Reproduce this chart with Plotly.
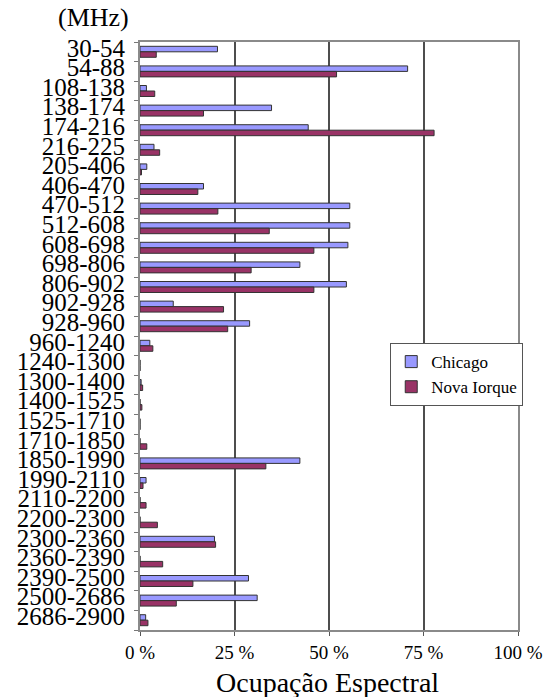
import plotly.graph_objects as go

# Frequency bands (MHz) and measured spectral occupancy (%)
bands = ["30-54", "54-88", "108-138", "138-174", "174-216", "216-225", "205-406",
         "406-470", "470-512", "512-608", "608-698", "698-806", "806-902", "902-928",
         "928-960", "960-1240", "1240-1300", "1300-1400", "1400-1525", "1525-1710",
         "1710-1850", "1850-1990", "1990-2110", "2110-2200", "2200-2300", "2300-2360",
         "2360-2390", "2390-2500", "2500-2686", "2686-2900"]

chicago = [20.5, 70.8, 1.7, 34.8, 44.5, 3.7, 1.8, 16.8, 55.5, 55.5,
           55.0, 42.3, 54.6, 8.8, 29.0, 2.6, 0.0, 0.3, 0.0, 0.0,
           0.0, 42.3, 1.6, 0.0, 0.0, 19.7, 0.0, 28.7, 31.0, 1.5]

nova_iorque = [4.3, 52.0, 3.9, 16.8, 77.8, 5.2, 0.4, 15.3, 20.6, 34.2,
               46.0, 29.4, 46.0, 22.1, 23.2, 3.4, 0.0, 0.7, 0.5, 0.0,
               1.8, 33.3, 0.8, 1.6, 4.6, 20.0, 6.0, 14.0, 9.6, 2.1]

x_ticks = [0, 25, 50, 75, 100]
x_tick_text = ["0 %", "25 %", "50 %", "75 %", "100 %"]

serif = "Times New Roman"

fig = go.Figure()
fig.add_trace(go.Bar(
    y=bands, x=chicago, orientation="h", name="Chicago",
    marker=dict(color="#9999FF", line=dict(color="#333333", width=1)),
))
fig.add_trace(go.Bar(
    y=bands, x=nova_iorque, orientation="h", name="Nova Iorque",
    marker=dict(color="#993366", line=dict(color="#333333", width=1)),
))

fig.update_layout(
    width=555, height=697,
    margin=dict(l=140, r=27, t=42, b=67),
    paper_bgcolor="white", plot_bgcolor="white",
    barmode="group", bargap=0.44, bargroupgap=0.0,
    font=dict(family=serif, color="black"),
    showlegend=True,
    legend=dict(
        x=0.662, y=0.488, xanchor="left", yanchor="top",
        bgcolor="white", bordercolor="#555555", borderwidth=1,
        font=dict(family=serif, size=17, color="black"),
        tracegroupgap=0, itemwidth=30,
    ),
    annotations=[
        dict(text="(MHz)", xref="paper", yref="paper", x=-0.124, y=1.0425,
             xanchor="center", yanchor="middle", showarrow=False,
             font=dict(family=serif, size=26, color="black")),
        dict(text="Ocupação Espectral", xref="paper", yref="paper", x=0.495, y=-0.09,
             xanchor="center", yanchor="middle", showarrow=False,
             font=dict(family=serif, size=28, color="black")),
    ],
)

fig.update_xaxes(
    range=[0, 100], tickvals=x_ticks, ticktext=x_tick_text,
    showgrid=True, gridcolor="#4d4d4d", gridwidth=2,
    showline=True, linecolor="#8a8a8a", linewidth=1.5, mirror=True,
    ticks="outside", ticklen=4, tickcolor="#555555",
    tickfont=dict(family=serif, size=19, color="black"),
    zeroline=False, fixedrange=True,
)
fig.update_yaxes(
    autorange="reversed", type="category",
    tickmode="array", tickvals=bands, ticktext=bands,
    showgrid=False, showline=True, linecolor="#8a8a8a", linewidth=2, mirror=True,
    ticks="outside", ticklen=4, tickcolor="#777777", tickson="boundaries",
    tickfont=dict(family=serif, size=25, color="black"),
    ticklabelstandoff=8, ticklabelshift=4,
)

fig.write_html("out.html")
